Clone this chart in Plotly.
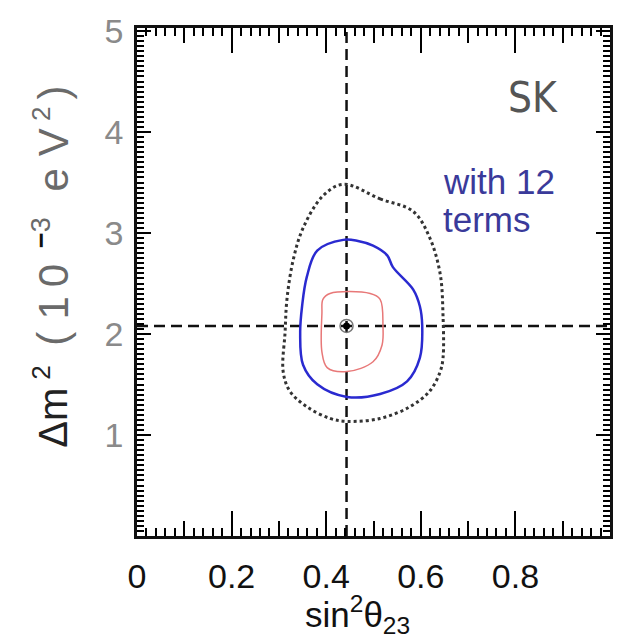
import plotly.graph_objects as go

# ---- data ----
best_x = 0.443
best_y = 2.08

red_x = [0.408, 0.493, 0.514, 0.520, 0.518, 0.499, 0.444, 0.402, 0.391, 0.391, 0.393, 0.408]
red_y = [2.401, 2.401, 2.343, 2.082, 1.889, 1.725, 1.628, 1.667, 1.821, 2.208, 2.343, 2.401]

blue_x = [0.436, 0.465, 0.499, 0.529, 0.541, 0.584, 0.598, 0.603, 0.598, 0.571, 0.514, 0.444,
          0.381, 0.351, 0.345, 0.349, 0.359, 0.381, 0.436]
blue_y = [2.932, 2.923, 2.874, 2.778, 2.662, 2.440, 2.275, 2.082, 1.763, 1.531, 1.406, 1.377,
          1.502, 1.696, 2.014, 2.275, 2.565, 2.826, 2.932]

outer_x = [0.436, 0.514, 0.584, 0.619, 0.641, 0.647, 0.647, 0.641, 0.619, 0.577, 0.514, 0.444,
           0.408, 0.359, 0.323, 0.309, 0.313, 0.317, 0.330, 0.351, 0.393, 0.436]
outer_y = [3.483, 3.338, 3.213, 2.952, 2.594, 2.179, 1.763, 1.628, 1.435, 1.280, 1.164, 1.135,
           1.164, 1.280, 1.435, 1.628, 2.014, 2.343, 2.729, 3.048, 3.367, 3.483]

x_ticks = [0, 0.2, 0.4, 0.6, 0.8, 1.0]
x_ticktext = ["0", "0.2", "0.4", "0.6", "0.8", ""]
x_mid_ticks = [0.1, 0.3, 0.5, 0.7, 0.9]
y_ticks = [0, 1, 2, 3, 4, 5]
y_ticktext = ["", "1", "2", "3", "4", "5"]

X_RANGE = [0, 1]
Y_RANGE = [0, 5.03]
X_MINOR_STEP = 0.02
Y_MINOR_STEP = 0.05

PL, PR, PT, PB = 137, 610, 16, 536
def px2paper(px, py):
    return (px - PL) / (PR - PL), (PB - py) / (PB - PT)

fig = go.Figure()

dash = "11px,6px"
fig.add_trace(go.Scatter(x=[best_x, best_x], y=Y_RANGE, mode="lines",
                         line=dict(color="#111", width=2.5, dash=dash),
                         hoverinfo="skip", showlegend=False))
fig.add_trace(go.Scatter(x=X_RANGE, y=[best_y, best_y], mode="lines",
                         line=dict(color="#111", width=2.5, dash=dash),
                         hoverinfo="skip", showlegend=False))

fig.add_trace(go.Scatter(x=outer_x, y=outer_y, mode="lines",
                         line=dict(color="#333", width=3, dash="dot", shape="spline", smoothing=1.0),
                         showlegend=False))
fig.add_trace(go.Scatter(x=blue_x, y=blue_y, mode="lines",
                         line=dict(color="#2a2ad0", width=2.5, shape="spline", smoothing=1.0),
                         showlegend=False))
fig.add_trace(go.Scatter(x=red_x, y=red_y, mode="lines",
                         line=dict(color="#e87878", width=1.5, shape="spline", smoothing=1.0),
                         showlegend=False))

fig.add_trace(go.Scatter(x=[best_x], y=[best_y], mode="markers",
                         marker=dict(symbol="circle-open", size=13, color="#777", line=dict(width=1.5, color="#777")),
                         showlegend=False))
fig.add_trace(go.Scatter(x=[best_x], y=[best_y], mode="markers",
                         marker=dict(symbol="circle", size=7, color="#000"),
                         showlegend=False))

fig.add_trace(go.Scatter(x=[None], y=[None], xaxis="x2", showlegend=False))
fig.add_trace(go.Scatter(x=[None], y=[None], xaxis="x3", yaxis="y2", showlegend=False))

axis_font = dict(family="Liberation Sans, Arial, sans-serif", size=34, color="#111")
FONT = "Liberation Sans, Arial, sans-serif"

annotations = []
tx, ty = px2paper(357, 616)
annotations.append(dict(text="sin<sup>2</sup>θ<sub>23</sub>", xref="paper", yref="paper",
                        x=tx, y=ty, xanchor="center", yanchor="middle", showarrow=False,
                        font=dict(family=FONT, size=35, color="#111")))

ytitle_pieces = [  # (text, y-centre px, size, colour, is_superscript)
    ("Δm", 415, 40, "#222", False),
    ("2", 369, 26, "#222", True),
    ("(", 334, 42, "#6a6a6a", False),
    ("1", 303, 42, "#6a6a6a", False),
    ("0", 270, 42, "#6a6a6a", False),
    ("<b style='color:#111'>−</b>3", 226, 27, "#6a6a6a", True),
    ("e", 172, 42, "#6a6a6a", False),
    ("V", 133, 42, "#6a6a6a", False),
    ("2", 104, 26, "#6a6a6a", True),
    (")", 82, 42, "#6a6a6a", False),
]
for txt, ypx, size, col, sup in ytitle_pieces:
    xp, yp = px2paper(41 if sup else 53, ypx)
    annotations.append(dict(text=txt, xref="paper", yref="paper", x=xp, y=yp,
                            xanchor="center", yanchor="middle", textangle=-90, showarrow=False,
                            font=dict(family=FONT, size=size, color=col)))

sx, sy = px2paper(533, 87)
annotations.append(dict(text="SK", xref="paper", yref="paper", x=sx, y=sy,
                        xanchor="center", yanchor="middle", showarrow=False,
                        font=dict(family="DejaVu Sans Condensed, Liberation Sans Narrow, Liberation Sans, sans-serif",
                                  size=42, color="#555")))
for txt, ypx in [("with 12", 173), ("terms", 212)]:
    wx, wy = px2paper(441, ypx)
    annotations.append(dict(text=txt, xref="paper", yref="paper", x=wx, y=wy,
                            xanchor="left", yanchor="middle", showarrow=False,
                            font=dict(family=FONT, size=35, color="#3a3a9a")))

tick_only = dict(showticklabels=False, showgrid=False, zeroline=False,
                 showline=True, linewidth=2.5, linecolor="#111", mirror="ticks")

fig.update_layout(
    width=625, height=640,
    margin=dict(l=PL, r=625 - PR, t=PT, b=640 - PB),
    paper_bgcolor="white", plot_bgcolor="white",
    xaxis=dict(range=X_RANGE, tickvals=x_ticks, ticktext=x_ticktext,
               ticks="inside", ticklen=25, tickwidth=2.2, tickcolor="#000",
               showline=True, linewidth=2.5, linecolor="#111", mirror="ticks",
               showgrid=False, zeroline=False, tickfont=axis_font, ticklabelstandoff=8),
    xaxis2=dict(range=X_RANGE, overlaying="x", side="bottom", tickvals=x_mid_ticks,
                ticks="inside", ticklen=15, tickwidth=2.2, tickcolor="#000", **tick_only),
    xaxis3=dict(range=X_RANGE, overlaying="x", side="bottom", tickmode="linear", tick0=0,
                dtick=X_MINOR_STEP, ticks="inside", ticklen=8, tickwidth=2.2, tickcolor="#000", **tick_only),
    yaxis=dict(range=Y_RANGE, tickvals=y_ticks, ticktext=y_ticktext,
               ticks="inside", ticklen=14, tickwidth=2.2, tickcolor="#000",
               showline=True, linewidth=2.5, linecolor="#111", mirror="ticks",
               showgrid=False, zeroline=False,
               tickfont=dict(family=FONT, size=34, color="#8a8a8a"),
               ticklabelstandoff=4),
    yaxis2=dict(range=Y_RANGE, overlaying="y", side="left", tickmode="linear", tick0=0,
                dtick=Y_MINOR_STEP, ticks="inside", ticklen=7, tickwidth=2.2, tickcolor="#000", **tick_only),
    annotations=annotations,
    showlegend=False,
)

fig.write_html("out.html")
